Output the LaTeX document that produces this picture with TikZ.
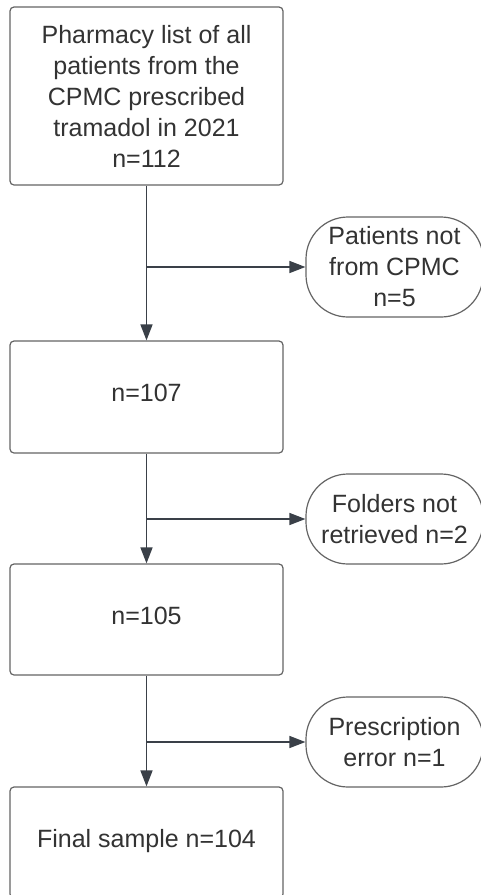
\documentclass[tikz,border=0pt]{standalone}
\usepackage{fontspec}
\setmainfont{Liberation Sans}
\usetikzlibrary{arrows.meta,calc}
\definecolor{boxline}{RGB}{100,100,100}
\definecolor{conline}{RGB}{58,64,72}
\definecolor{txt}{RGB}{51,51,51}
\tikzset{
  stepbox/.style={draw=boxline, line width=1.2pt, rounded corners=4pt, fill=white,
    minimum width=273pt, inner sep=0pt, align=center, text=txt,
    font=\fontsize{25}{31}\selectfont},
  onebox/.style={stepbox, text depth=8pt},
  exclbox/.style={draw=boxline, line width=1.2pt, rounded corners=42pt, fill=white,
    minimum width=177pt, inner sep=0pt, align=center, text=txt,
    font=\fontsize{25}{31}\selectfont},
  conn/.style={draw=conline, line width=1.5pt, -{Triangle[length=16pt,width=12pt]}},
}
\begin{document}
\begin{tikzpicture}[x=1pt,y=-1pt]
\clip (0,0) rectangle (481,895);
\useasboundingbox (0,0) rectangle (481,895);
\fill[white] (0,0) rectangle (481,895);
\node[stepbox, minimum height=178pt] (top) at (146.5,96) {Pharmacy list of all\\patients from the\\CPMC prescribed\\tramadol in 2021\\n=112};
\node[onebox, minimum height=112pt] (b2) at (146.5,397) {n=107};
\node[onebox, minimum height=111pt] (b3) at (146.5,619.5) {n=105};
\node[onebox, minimum height=111pt] (b4) at (146.5,842.5) {Final sample n=104};
\node[exclbox, minimum height=100pt] (e1) at (394.5,267) {Patients not\\from CPMC\\n=5};
\node[exclbox, minimum height=90pt] (e2) at (394.5,519) {Folders not\\retrieved n=2};
\node[exclbox, minimum height=90pt] (e3) at (394.5,742) {Prescription\\error n=1};
\coordinate (j1) at (top.south |- e1.west);
\coordinate (j2) at (b2.south |- e2.west);
\coordinate (j3) at (b3.south |- e3.west);
\draw[conn] (top.south) -- (b2.north);
\draw[conn] (b2.south) -- (b3.north);
\draw[conn] (b3.south) -- (b4.north);
\draw[conn] (j1) -- (e1.west);
\draw[conn] (j2) -- (e2.west);
\draw[conn] (j3) -- (e3.west);
\end{tikzpicture}
\end{document}
